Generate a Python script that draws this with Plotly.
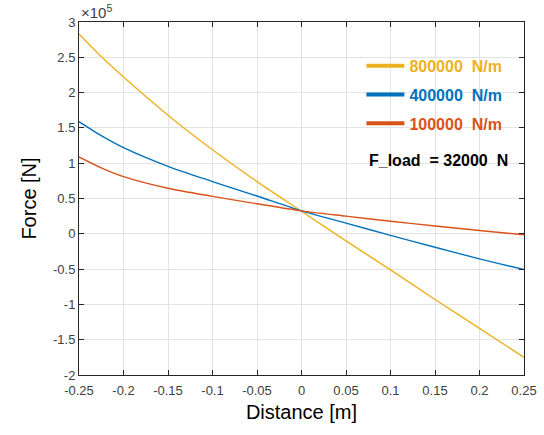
import plotly.graph_objects as go

# Data (force in N)
distance = [-0.25, -0.225, -0.2, -0.15, -0.1, -0.05, 0.0, 0.05, 0.1, 0.15, 0.2, 0.25]
force_800k = [2.83e5, 2.51e5, 2.22e5, 1.68e5, 1.19e5, 0.74e5, 0.32e5, -0.10e5, -0.51e5, -0.93e5, -1.34e5, -1.75e5]
force_400k = [1.59e5, 1.39e5, 1.22e5, 0.955e5, 0.74e5, 0.535e5, 0.325e5, 0.152e5, -0.022e5, -0.19e5, -0.355e5, -0.507e5]
force_100k = [1.09e5, 0.935e5, 0.81e5, 0.645e5, 0.53e5, 0.425e5, 0.325e5, 0.25e5, 0.178e5, 0.11e5, 0.047e5, -0.014e5]

series_names = ["800000  N/m", "400000  N/m", "100000  N/m"]
series_colors = ["#EDB120", "#0072BD", "#D95319"]
series_values = [force_800k, force_400k, force_100k]

x_tickvals = [-0.25, -0.2, -0.15, -0.1, -0.05, 0, 0.05, 0.1, 0.15, 0.2, 0.25]
x_ticktext = ["-0.25", "-0.2", "-0.15", "-0.1", "-0.05", "0", "0.05", "0.1", "0.15", "0.2", "0.25"]
y_tickvals = [-2e5, -1.5e5, -1e5, -0.5e5, 0, 0.5e5, 1e5, 1.5e5, 2e5, 2.5e5, 3e5]
y_ticktext = ["-2", "-1.5", "-1", "-0.5", "0", "0.5", "1", "1.5", "2", "2.5", "3"]

FONT = "Liberation Sans, Arial, sans-serif"
AX = "#262626"

fig = go.Figure()
for name, color, vals in zip(series_names, series_colors, series_values):
    fig.add_trace(go.Scatter(x=distance, y=vals, mode="lines",
                             line=dict(color=color, width=1.4, shape="spline", smoothing=0.8),
                             showlegend=False, hoverinfo="skip"))
# legend entries with thicker lines
for i, (name, color) in enumerate(zip(series_names, series_colors)):
    fig.add_trace(go.Scatter(x=[None], y=[None], mode="lines",
                             line=dict(color=color, width=4), legendgroup=f"g{i}",
                             name=f"<span style='color:{color}'>{name}</span>"))

axis_common = dict(showline=True, linecolor=AX, linewidth=1, mirror="ticks",
                   ticks="inside", ticklen=5, tickcolor=AX, automargin=False,
                   showgrid=True, gridcolor="#e3e3e3", gridwidth=1,
                   zeroline=False, tickfont=dict(family=FONT, size=13, color="#404040"))

fig.update_xaxes(range=[-0.25, 0.25], tickvals=x_tickvals, ticktext=x_ticktext,
                 ticklabelstandoff=3,
                 title=dict(text="Distance [m]", font=dict(family=FONT, size=20, color="#000"), standoff=8),
                 **axis_common)
fig.update_yaxes(range=[-2e5, 3e5], tickvals=y_tickvals, ticktext=y_ticktext,
                 title=dict(text="Force [N]", font=dict(family=FONT, size=20, color="#000"), standoff=10),
                 **axis_common)

fig.add_annotation(x=0.0, y=1.0, xref="paper", yref="paper", xanchor="left", yanchor="bottom",
                   text="×10<sup>5</sup>", showarrow=False, yshift=-1,
                   font=dict(family=FONT, size=15, color="#404040"))
fig.add_annotation(x=0.969, y=0.609, xref="paper", yref="paper", xanchor="right", yanchor="middle",
                   text="<b>F_load  = 32000  N</b>", showarrow=False,
                   font=dict(family=FONT, size=16, color="#000"))

fig.update_layout(
    width=544, height=435,
    margin=dict(l=79, r=20, t=22, b=60),
    paper_bgcolor="white", plot_bgcolor="white",
    font=dict(family=FONT),
    legend=dict(x=0.6346, y=0.924, xanchor="left", yanchor="top",
                bgcolor="rgba(0,0,0,0)", borderwidth=0, itemwidth=38,
                font=dict(family=FONT, size=16, weight="bold"),
                tracegroupgap=5),
)

fig.write_html("out.html", config={"displayModeBar": False},
               post_script="document.body.style.margin='0';document.body.style.overflow='hidden';")
